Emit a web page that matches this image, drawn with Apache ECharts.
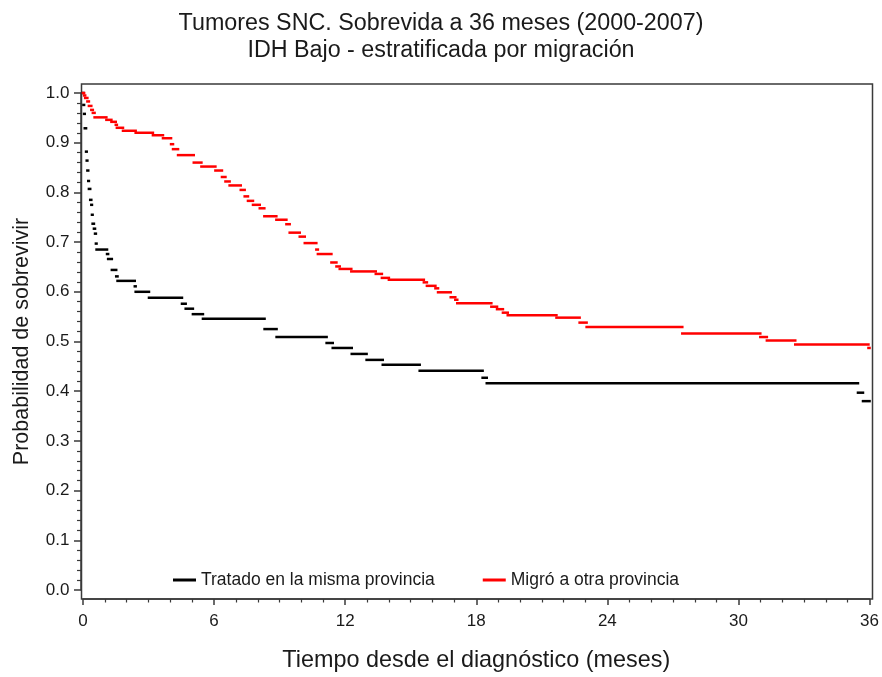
<!DOCTYPE html>
<html>
<head>
<meta charset="utf-8">
<script src="https://cdn.jsdelivr.net/npm/echarts@6/dist/echarts.min.js"></script>
<style>html,body{margin:0;padding:0;background:#fff;}#c{width:882px;height:677px;}</style>
</head>
<body>
<div id="c"></div>
<script>
// Titles and labels
const titleText = 'Tumores SNC. Sobrevida a 36 meses (2000-2007)\nIDH Bajo - estratificada por migración';
const xName = 'Tiempo desde el diagnóstico (meses)';
const yName = 'Probabilidad de sobrevivir';
const groupNames = ['Tratado en la misma provincia', 'Migró a otra provincia'];

// Kaplan-Meier steps: start time of each step (months) and survival during it
const blackTimes = [0, 0.02, 0.05, 0.08, 0.14, 0.17, 0.2, 0.24, 0.27, 0.33, 0.38, 0.41, 0.44, 0.5, 0.55, 0.59, 0.62, 1.1, 1.15, 1.32, 1.52, 1.58, 2.37, 2.41, 3.02, 4.53, 4.7, 5.03, 5.49, 8.31, 8.86, 11.15, 11.43, 12.3, 12.98, 13.72, 15.41, 18.29, 18.48, 35.47, 35.7];
const blackSurv  = [1.0, 0.976, 0.958, 0.929, 0.882, 0.864, 0.844, 0.823, 0.807, 0.785, 0.775, 0.755, 0.737, 0.727, 0.717, 0.697, 0.685, 0.676, 0.666, 0.644, 0.631, 0.622, 0.611, 0.600, 0.588, 0.576, 0.566, 0.555, 0.546, 0.525, 0.509, 0.497, 0.487, 0.475, 0.463, 0.453, 0.441, 0.427, 0.416, 0.397, 0.380];
const blackEnd = 36;

const redTimes = [0, 0.05, 0.1, 0.2, 0.27, 0.38, 0.45, 0.53, 1.07, 1.3, 1.5, 1.55, 1.83, 2.41, 3.2, 3.66, 4.03, 4.12, 4.35, 5.07, 5.42, 6.06, 6.36, 6.52, 6.71, 7.22, 7.4, 7.55, 7.78, 8.09, 8.3, 8.85, 9.31, 9.46, 9.92, 10.15, 10.68, 10.75, 11.37, 11.6, 11.75, 12.28, 13.4, 13.68, 14.0, 15.6, 15.74, 16.13, 16.25, 16.83, 17.04, 17.13, 18.69, 18.95, 19.22, 19.44, 21.67, 22.73, 23.05, 27.43, 31.0, 31.3, 32.6, 35.95];
const redSurv  = [1.0, 0.995, 0.990, 0.983, 0.974, 0.966, 0.960, 0.951, 0.946, 0.942, 0.936, 0.930, 0.924, 0.920, 0.915, 0.909, 0.897, 0.887, 0.875, 0.860, 0.852, 0.844, 0.831, 0.822, 0.814, 0.805, 0.792, 0.783, 0.775, 0.768, 0.752, 0.745, 0.736, 0.719, 0.711, 0.698, 0.685, 0.676, 0.659, 0.651, 0.646, 0.641, 0.636, 0.628, 0.624, 0.619, 0.612, 0.607, 0.599, 0.589, 0.584, 0.577, 0.570, 0.565, 0.558, 0.553, 0.548, 0.538, 0.529, 0.516, 0.509, 0.502, 0.494, 0.487];
const redEnd = 36;

const xTicks = [0, 6, 12, 18, 24, 30, 36];
const yTicks = [0, 0.1, 0.2, 0.3, 0.4, 0.5, 0.6, 0.7, 0.8, 0.9, 1.0];

function steps(times, surv, end) {
  return times.map((t, i) => [t, surv[i], i + 1 < times.length ? times[i + 1] : end]);
}

function renderStep(params, api) {
  const p1 = api.coord([api.value(0), api.value(1)]);
  const p2 = api.coord([api.value(2), api.value(1)]);
  return {
    type: 'line',
    shape: { x1: p1[0], y1: p1[1], x2: p2[0], y2: p2[1] },
    style: { stroke: api.visual('color'), lineWidth: 2.5, lineCap: 'square' }
  };
}

const FONT = 'Liberation Sans, Arial, sans-serif';
const TXT = '#1a1a1a';
const AX = '#3a3a3a';
const chart = echarts.init(document.getElementById('c'), null, { renderer: 'canvas' });
chart.setOption({
  animation: false,
  backgroundColor: '#fff',
  title: {
    text: titleText, left: 'center', top: 5,
    textStyle: { fontFamily: FONT, fontSize: 23.3, fontWeight: 'normal', color: TXT, lineHeight: 27 }
  },
  legend: {
    left: 173, top: 571, padding: 0, itemWidth: 23, itemHeight: 3, itemGap: 48,
    textStyle: { fontFamily: FONT, fontSize: 17.5, color: TXT },
    data: [{ name: groupNames[0], icon: 'rect' }, { name: groupNames[1], icon: 'rect' }]
  },
  grid: [
    { left: 83, right: 11.5, top: 93, bottom: 87 },
    { left: 81.5, right: 9.5, top: 84, bottom: 78, show: true, borderColor: AX, borderWidth: 1.5, backgroundColor: 'transparent' }
  ],
  xAxis: [
    {
      gridIndex: 0, type: 'value', min: xTicks[0], max: xTicks[xTicks.length - 1], interval: 6, offset: 9,
      name: xName, nameLocation: 'middle', nameGap: 50,
      nameTextStyle: { fontFamily: FONT, fontSize: 23.4, color: TXT },
      axisLine: { show: true, onZero: false, lineStyle: { color: AX, width: 1.5 } },
      axisTick: { show: true, length: 6, lineStyle: { color: AX, width: 1.5 } },
      minorTick: { show: true, splitNumber: 6, length: 3.5, lineStyle: { color: AX, width: 1.2 } },
      splitLine: { show: false },
      axisLabel: { margin: 14, fontFamily: FONT, fontSize: 17, color: TXT }
    },
    { gridIndex: 1, type: 'value', min: 0, max: 1, show: false }
  ],
  yAxis: [
    {
      gridIndex: 0, type: 'value', min: yTicks[0], max: yTicks[yTicks.length - 1], interval: 0.1, offset: 2,
      name: yName, nameLocation: 'middle', nameGap: 48, nameRotate: 90,
      nameTextStyle: { fontFamily: FONT, fontSize: 21.5, color: TXT },
      axisLine: { show: true, onZero: false, lineStyle: { color: AX, width: 1.5 } },
      axisTick: { show: true, length: 7, lineStyle: { color: AX, width: 1.5 } },
      minorTick: { show: true, splitNumber: 5, length: 4, lineStyle: { color: AX, width: 1.2 } },
      splitLine: { show: false },
      axisLabel: { margin: 11.5, fontFamily: FONT, fontSize: 17, color: TXT, formatter: v => v.toFixed(1) }
    },
    { gridIndex: 1, type: 'value', min: 0, max: 1, show: false }
  ],
  series: [
    {
      name: groupNames[0], type: 'custom', xAxisIndex: 0, yAxisIndex: 0,
      itemStyle: { color: '#000000' },
      renderItem: renderStep, encode: { x: [0, 2], y: 1 },
      data: steps(blackTimes, blackSurv, blackEnd)
    },
    {
      name: groupNames[1], type: 'custom', xAxisIndex: 0, yAxisIndex: 0,
      itemStyle: { color: '#ff0000' },
      renderItem: renderStep, encode: { x: [0, 2], y: 1 },
      data: steps(redTimes, redSurv, redEnd)
    }
  ]
});
</script>
</body>
</html>
